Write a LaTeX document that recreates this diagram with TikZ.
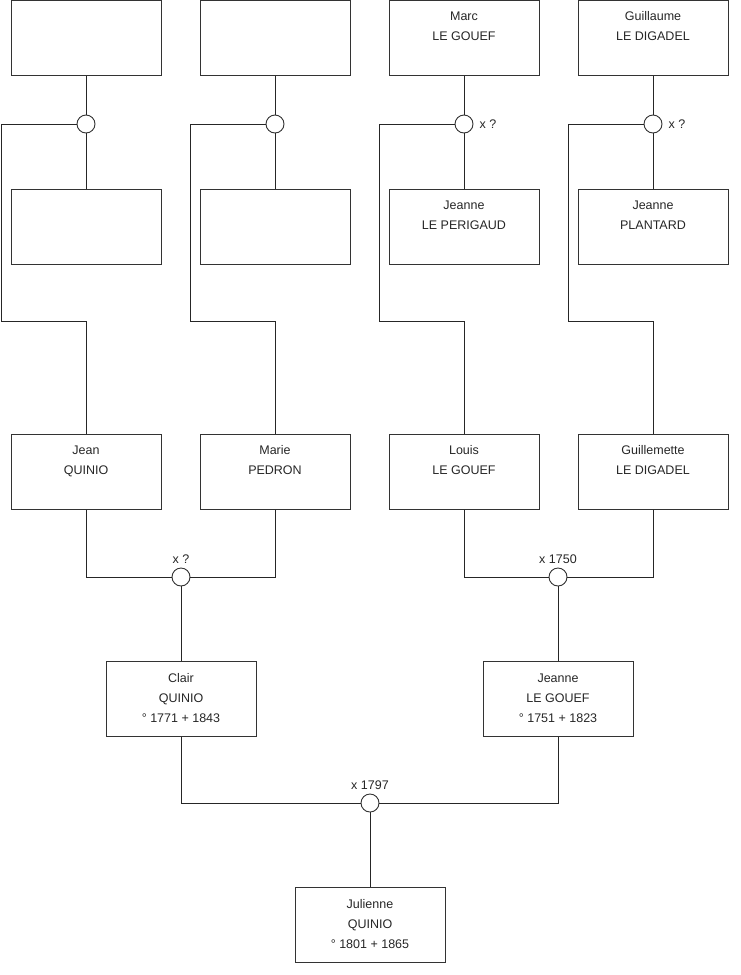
\documentclass[tikz,border=0pt]{standalone}
\usepackage{fontspec}
\setmainfont{Liberation Sans}
\begin{document}
\begin{tikzpicture}[x=1pt, y=-1pt,
  person/.style={rectangle, draw=black!80, line width=0.9pt, minimum width=150pt, minimum height=75pt, inner sep=0pt, align=center, font=\fontsize{12.5}{20}\selectfont, text=black!85},
  union/.style={circle, draw=black!80, line width=0.9pt, fill=white, minimum size=18pt, inner sep=0pt},
  link/.style={draw=black!85, line width=0.9pt},
  wed/.style={font=\fontsize{12.5}{15}\selectfont, inner sep=1pt, text=black!85}
]
\useasboundingbox (0,0) rectangle (740,975);

% generation 4
\node[person] (gpA) at (86,38) {};
\node[person] (gpB) at (275,38) {};
\node[person] (marc) at (464,38) {\strut Marc\\LE GOUEF\\[10pt]\mbox{}};
\node[person] (guillaume) at (653,38) {\strut Guillaume\\LE DIGADEL\\[10pt]\mbox{}};

\node[union] (uA) at (86,124) {};
\node[union] (uB) at (275,124) {};
\node[union, label={[wed, label distance=5pt]right:x ?}] (uC) at (464,124) {};
\node[union, label={[wed, label distance=5pt]right:x ?}] (uD) at (653,124) {};

\node[person] (gmA) at (86,227) {};
\node[person] (gmB) at (275,227) {};
\node[person] (perigaud) at (464,227) {\strut Jeanne\\LE PERIGAUD\\[10pt]\mbox{}};
\node[person] (plantard) at (653,227) {\strut Jeanne\\PLANTARD\\[10pt]\mbox{}};

% generation 3
\node[person] (jean) at (86,472) {\strut Jean\\QUINIO\\[10pt]\mbox{}};
\node[person] (marie) at (275,472) {\strut Marie\\PEDRON\\[10pt]\mbox{}};
\node[person] (louis) at (464,472) {\strut Louis\\LE GOUEF\\[10pt]\mbox{}};
\node[person] (guillemette) at (653,472) {\strut Guillemette\\LE DIGADEL\\[10pt]\mbox{}};

\node[union, label={[wed, label distance=3pt]above:x ?}] (uJM) at (181,577) {};
\node[union, label={[wed, label distance=3pt]above:x 1750}] (uLG) at (558,577) {};

% generation 2
\node[person] (clair) at (181,699) {\strut Clair\\QUINIO\\° 1771 + 1843\\[-12pt]\mbox{}};
\node[person] (jeanne) at (558,699) {\strut Jeanne\\LE GOUEF\\° 1751 + 1823\\[-12pt]\mbox{}};

\node[union, label={[wed, label distance=3pt]above:x 1797}] (uCJ) at (370,803) {};

% generation 1
\node[person] (julienne) at (370,925) {\strut Julienne\\QUINIO\\° 1801 + 1865\\[-12pt]\mbox{}};

% bends of the child lines
\coordinate (kA) at (1,321);
\coordinate (kB) at (190,321);
\coordinate (kC) at (379,321);
\coordinate (kD) at (568,321);

\draw[link] (gpA.south) -- (uA.north);
\draw[link] (uA.south) -- (gmA.north);
\draw[link] (uA.west) -| (kA) -| (jean.north);
\draw[link] (gpB.south) -- (uB.north);
\draw[link] (uB.south) -- (gmB.north);
\draw[link] (uB.west) -| (kB) -| (marie.north);
\draw[link] (marc.south) -- (uC.north);
\draw[link] (uC.south) -- (perigaud.north);
\draw[link] (uC.west) -| (kC) -| (louis.north);
\draw[link] (guillaume.south) -- (uD.north);
\draw[link] (uD.south) -- (plantard.north);
\draw[link] (uD.west) -| (kD) -| (guillemette.north);

\draw[link] (jean.south) |- (uJM.west);
\draw[link] (marie.south) |- (uJM.east);
\draw[link] (uJM.south) -- (clair.north);
\draw[link] (louis.south) |- (uLG.west);
\draw[link] (guillemette.south) |- (uLG.east);
\draw[link] (uLG.south) -- (jeanne.north);

\draw[link] (clair.south) |- (uCJ.west);
\draw[link] (jeanne.south) |- (uCJ.east);
\draw[link] (uCJ.south) -- (julienne.north);
\end{tikzpicture}
\end{document}
